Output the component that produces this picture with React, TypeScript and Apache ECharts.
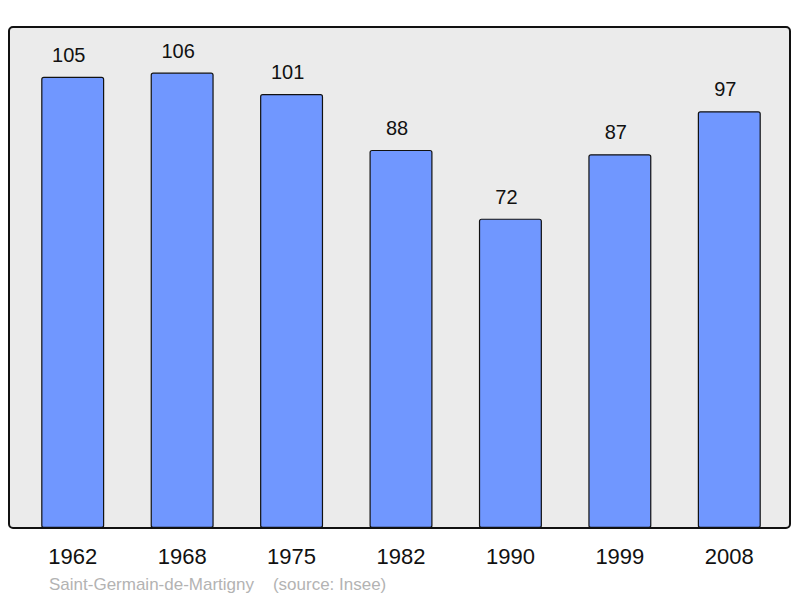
import React, { useEffect, useRef } from "react";
import * as echarts from "echarts";

const years = ["1962", "1968", "1975", "1982", "1990", "1999", "2008"];
const population = [105, 106, 101, 88, 72, 87, 97];
const footer = "Saint-Germain-de-Martigny    (source: Insee)";

export default function App() {
  const ref = useRef<HTMLDivElement>(null);
  useEffect(() => {
    if (!ref.current) return;
    const chart = echarts.init(ref.current, null, { renderer: "svg" });
    chart.setOption({
      animation: false,
      textStyle: { fontFamily: "Liberation Sans, Arial, sans-serif" },
      grid: { left: 18, right: 16, top: 27, bottom: 70 },
      graphic: [
        {
          type: "rect",
          z: -10,
          shape: { x: 9, y: 27, width: 781, height: 501, r: 4 },
          style: { fill: "#ebebeb", stroke: "#111", lineWidth: 2 },
        },
        {
          type: "text",
          x: 49,
          y: 584,
          style: {
            text: footer,
            fill: "#b3b3b3",
            fontSize: 17,
            fontFamily: "Liberation Sans, Arial, sans-serif",
            verticalAlign: "middle",
          },
        },
      ],
      xAxis: {
        type: "category",
        data: years,
        axisLine: { show: false },
        axisTick: { show: false },
        axisLabel: {
          color: "#111",
          fontSize: 22,
          margin: 17,
          fontFamily: "Liberation Sans, Arial, sans-serif",
        },
      },
      yAxis: {
        type: "value",
        min: 0,
        max: 116.6,
        show: false,
        splitLine: { show: false },
      },
      series: [
        {
          type: "bar",
          data: population,
          barWidth: 63,
          itemStyle: {
            color: "#7097ff",
            borderColor: "#111",
            borderWidth: 1.2,
            borderRadius: 2,
          },
          label: {
            show: true,
            position: "top",
            distance: 12,
            offset: [-4, 0],
            color: "#111",
            fontSize: 20,
            fontFamily: "Liberation Sans, Arial, sans-serif",
          },
        },
      ],
    });
    return () => chart.dispose();
  }, []);
  return <div ref={ref} style={{ width: 800, height: 598, position: "absolute", left: 0, top: 0 }} />;
}
